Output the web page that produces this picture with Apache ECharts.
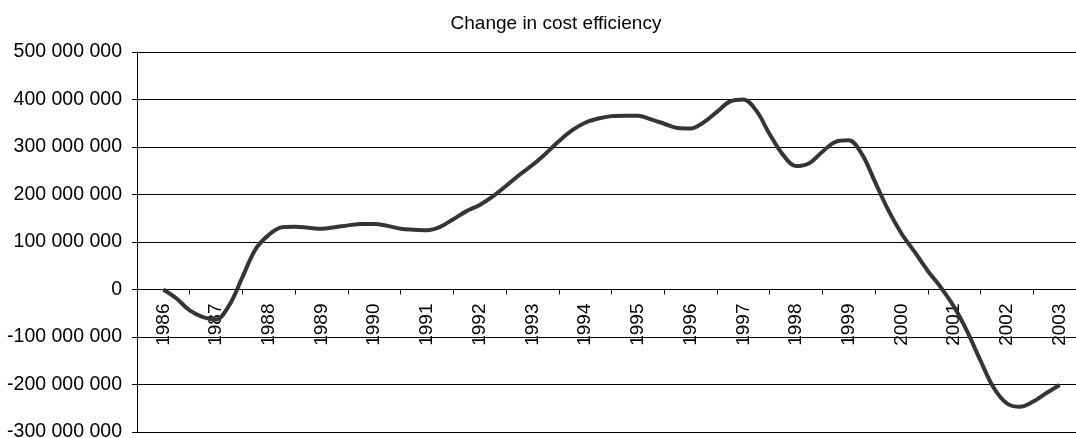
<!DOCTYPE html>
<html>
<head>
<meta charset="utf-8">
<script src="https://cdn.jsdelivr.net/npm/echarts@6/dist/echarts.min.js"></script>
<style>
  html, body { margin: 0; padding: 0; background: #fff; overflow: hidden; }
  #chart { width: 1076px; height: 438px; }
</style>
</head>
<body>
<div id="chart"></div>
<script>
// Year labels on the category axis
const years = ['1986','1987','1988','1989','1990','1991','1992','1993','1994',
               '1995','1996','1997','1998','1999','2000','2001','2002','2003'];

// Quarterly change in cost efficiency, in millions, 1986 Q1 .. 2003 Q1
const costEfficiencyMillions = [
  0, -19, -44, -58,
  -63, -33, 26, 85,
  115, 131, 132, 130,
  128, 131, 135, 138,
  138, 134, 128, 126,
  125, 132, 148, 165,
  178, 196, 218, 241,
  262, 286, 312, 335,
  351, 360, 365, 366,
  366, 358, 349, 340,
  339, 352, 374, 396,
  400, 376, 327, 284,
  260, 266, 290, 311,
  314, 285, 226, 167,
  118, 79, 39, 4,
  -37, -89, -150, -207,
  -240, -247, -236, -218,
  -201
];

// Value axis ticks
const yMin = -300000000;
const yMax = 500000000;
const yStep = 100000000;

// Each observation sits at its quarter's position along the year scale
const points = costEfficiencyMillions.map((v, i) => [
  Number(years[0]) + i / 4,
  v * 1000000
]);

function spaced(v) {
  const s = String(Math.abs(v)).replace(/\B(?=(\d{3})+(?!\d))/g, ' ');
  return (v < 0 ? '-' : '') + s;
}

const FONT = 'Liberation Sans, Arial, sans-serif';
const GRID_TOP = 52;
const GRID_BOTTOM = 6;
const GRID_HEIGHT = 438 - GRID_TOP - GRID_BOTTOM;
// The year axis runs along the zero line of the value axis
const zeroLift = GRID_HEIGHT * (0 - yMin) / (yMax - yMin);

const chart = echarts.init(document.getElementById('chart'), null, { renderer: 'canvas' });
chart.setOption({
  animation: false,
  backgroundColor: '#ffffff',
  title: {
    text: 'Change in cost efficiency',
    left: 551,
    top: 9,
    textAlign: 'center',
    textStyle: { fontFamily: FONT, fontSize: 19, fontWeight: 'normal', color: '#000' }
  },
  grid: {
    left: 137, right: -10, top: GRID_TOP, bottom: GRID_BOTTOM,
    containLabel: false,
    outerBoundsMode: 'none'
  },
  xAxis: [
    {
      type: 'category',
      data: years,
      position: 'bottom',
      offset: -zeroLift,
      boundaryGap: true,
      axisLine: { show: true, onZero: false, lineStyle: { color: '#000', width: 1 } },
      axisTick: { show: true, length: 5, alignWithLabel: false, lineStyle: { color: '#000' } },
      axisLabel: {
        show: true,
        rotate: 90,
        margin: 14,
        interval: 0,
        hideOverlap: false,
        fontFamily: FONT,
        fontSize: 19,
        color: '#000'
      },
      splitLine: { show: false }
    },
    {
      type: 'value',
      show: false,
      axisLine: { onZero: false },
      min: Number(years[0]) - 0.5,
      max: Number(years[years.length - 1]) + 0.5
    }
  ],
  yAxis: {
    type: 'value',
    min: yMin,
    max: yMax,
    interval: yStep,
    axisLine: { show: true, onZero: false, lineStyle: { color: '#000', width: 1 } },
    axisTick: { show: true, length: 5, lineStyle: { color: '#000' } },
    axisLabel: {
      margin: 15,
      fontFamily: FONT,
      fontSize: 19.5,
      color: '#000',
      formatter: spaced
    },
    splitLine: { show: true, lineStyle: { color: '#000', width: 1 } }
  },
  series: [
    {
      type: 'line',
      xAxisIndex: 1,
      data: points,
      smooth: 0.35,
      showSymbol: false,
      lineStyle: { color: '#353535', width: 4 },
      z: 5
    }
  ]
});
</script>
</body>
</html>
